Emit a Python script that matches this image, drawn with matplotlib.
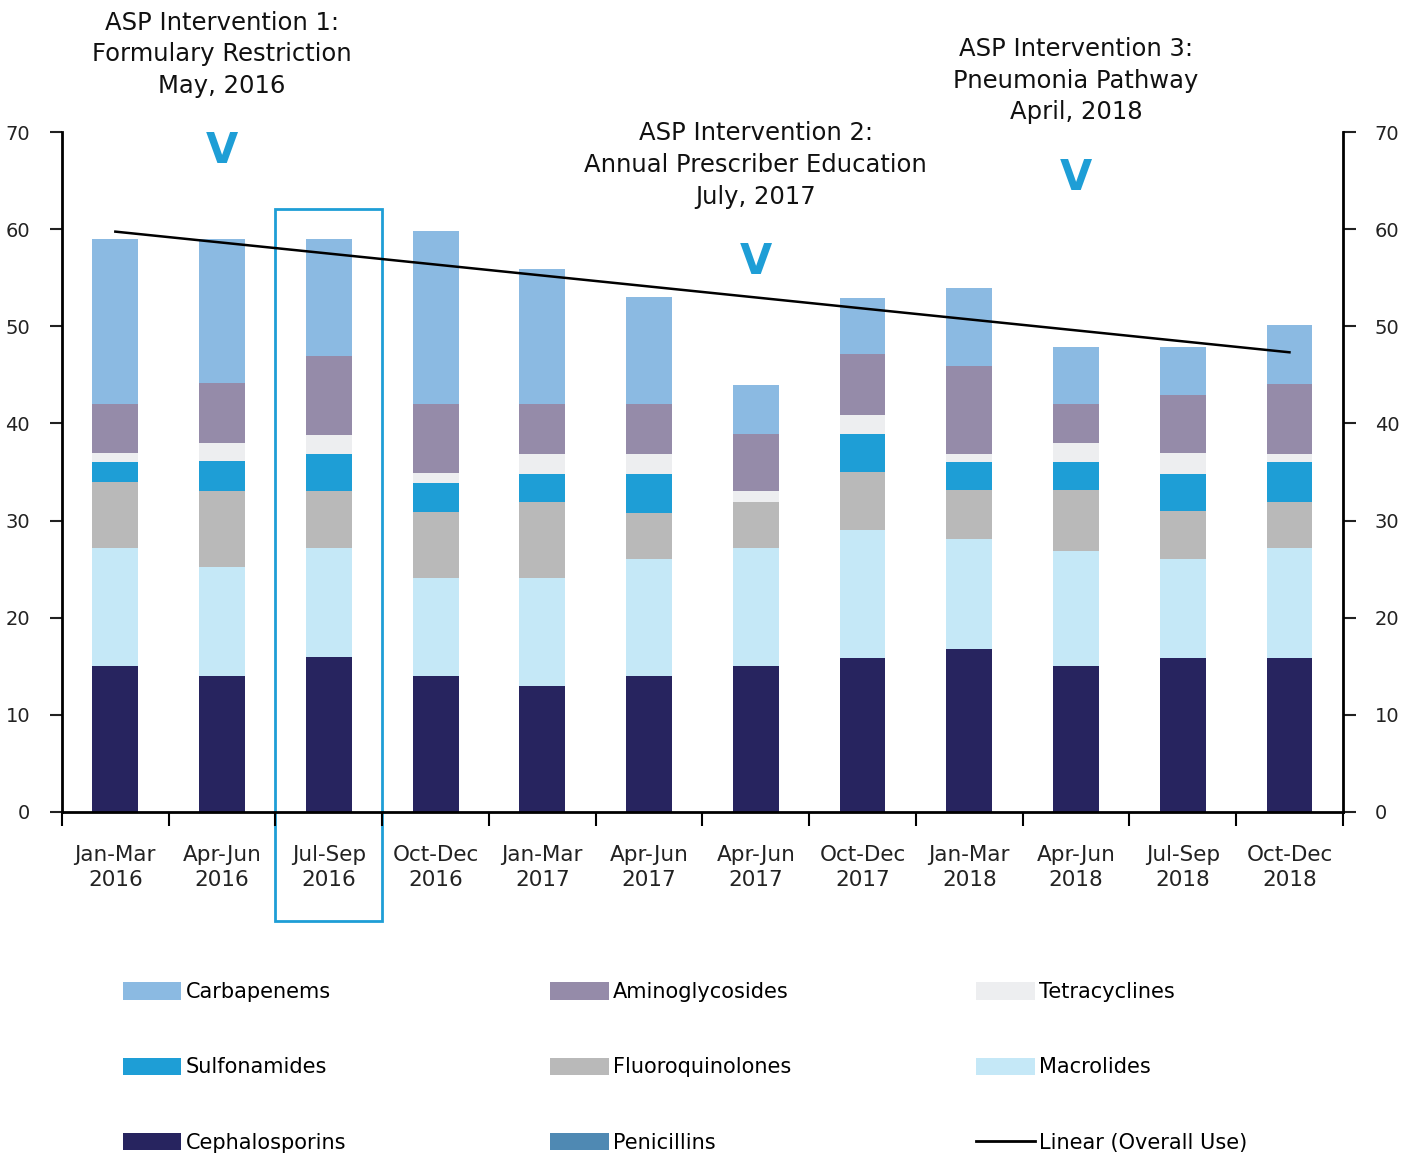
import matplotlib
matplotlib.use("Agg")
import matplotlib.pyplot as plt
import numpy as np
from matplotlib.patches import Rectangle, Patch
from matplotlib.lines import Line2D

quarters = ["Jan-Mar\n2016", "Apr-Jun\n2016", "Jul-Sep\n2016", "Oct-Dec\n2016",
            "Jan-Mar\n2017", "Apr-Jun\n2017", "Apr-Jun\n2017", "Oct-Dec\n2017",
            "Jan-Mar\n2018", "Apr-Jun\n2018", "Jul-Sep\n2018", "Oct-Dec\n2018"]

# values (per quarter), stacked bottom to top
cephalosporins = [15.0, 14.0, 16.0, 14.0, 13.0, 14.0, 15.0, 15.8, 16.8, 15.0, 15.8, 15.8]
macrolides = [12.2, 11.2, 11.2, 10.1, 11.1, 12.0, 12.2, 13.2, 11.3, 11.9, 10.2, 11.4]
fluoroquinolones = [6.8, 7.8, 5.8, 6.8, 7.8, 4.8, 4.7, 6.0, 5.0, 6.2, 5.0, 4.7]
sulfonamides = [2.0, 3.1, 3.9, 3.0, 2.9, 4.0, 0.0, 3.9, 2.9, 2.9, 3.8, 4.1]
tetracyclines = [1.0, 1.9, 1.9, 1.0, 2.1, 2.1, 1.1, 2.0, 0.9, 2.0, 2.2, 0.9]
aminoglycosides = [5.0, 6.2, 8.1, 7.1, 5.1, 5.1, 5.9, 6.2, 9.0, 4.0, 5.9, 7.2]
carbapenems = [17.0, 14.8, 12.1, 17.8, 13.9, 11.0, 5.1, 5.8, 8.0, 5.9, 5.0, 6.0]
penicillins = [0, 0, 0, 0, 0, 0, 0, 0, 0, 0, 0, 0]

series = [
    ("Cephalosporins", cephalosporins, "#27245f"),
    ("Macrolides", macrolides, "#c5e8f7"),
    ("Fluoroquinolones", fluoroquinolones, "#b9b9b9"),
    ("Sulfonamides", sulfonamides, "#1e9ed6"),
    ("Tetracyclines", tetracyclines, "#edeef0"),
    ("Aminoglycosides", aminoglycosides, "#958ba9"),
    ("Carbapenems", carbapenems, "#8bbae2"),
    ("Penicillins", penicillins, "#4f89b3"),
]

interventions = [
    ("ASP Intervention 1:\nFormulary Restriction\nMay, 2016", 1, 78.0, 68.0),
    ("ASP Intervention 2:\nAnnual Prescriber Education\nJuly, 2017", 6, 66.6, 56.6),
    ("ASP Intervention 3:\nPneumonia Pathway\nApril, 2018", 9, 75.3, 65.3),
]
highlight = 2

plt.rcParams["font.family"] = ["DejaVu Sans"]
fig = plt.figure(figsize=(14.15, 11.54), dpi=100)
ax = fig.add_axes([0.0438, 0.2964, 0.9052, 0.5892])

x = np.arange(len(quarters))
bottom = np.zeros(len(quarters))
colors = {}
for name, vals, col in series:
    ax.bar(x, vals, width=0.43, bottom=bottom, color=col, linewidth=0)
    bottom = bottom + np.array(vals)
    colors[name] = col

# linear trend of overall use
k, b = np.polyfit(x, bottom, 1)
ax.plot(x, k * x + b, color="black", lw=1.8)

ax.set_xlim(-0.5, len(quarters) - 0.5)
ax.set_ylim(0, 70)
ax.set_yticks(range(0, 71, 10))
ax.tick_params(axis="y", labelsize=14, length=9, width=1.5, colors="#222222", pad=14,
               left=True, right=True, labelleft=True, labelright=True)
ax.set_xticks(np.arange(-0.5, len(quarters), 1))
ax.set_xticklabels([])
ax.set_xticks(x, minor=True)
ax.set_xticklabels(quarters, minor=True, fontsize=15.5, color="#222222", linespacing=1.3)
ax.tick_params(axis="x", which="major", length=10, width=1.5)
ax.tick_params(axis="x", which="minor", length=0, pad=24)
ax.spines["top"].set_visible(False)
for s in ["left", "right", "bottom"]:
    ax.spines[s].set_linewidth(2)

for label, i, ty, vy in interventions:
    ax.text(i, ty, label, ha="center", va="center", fontsize=17.5, color="#111111",
            linespacing=1.4, clip_on=False)
    ax.text(i, vy, "V", ha="center", va="center", fontsize=30, fontweight="bold",
            color="#1e9ed6", clip_on=False)

ax.add_patch(Rectangle((highlight - 0.5, -11.2), 1.0, 73.3, fill=False,
                       edgecolor="#1e9ed6", lw=2, clip_on=False))

# legend, three columns as in the original layout
cols = [
    ["Carbapenems", "Sulfonamides", "Cephalosporins"],
    ["Aminoglycosides", "Fluoroquinolones", "Penicillins"],
    ["Tetracyclines", "Macrolides", "Linear (Overall Use)"],
]
xpos = [0.087, 0.389, 0.690]
for cx, names in zip(xpos, cols):
    handles = []
    for n in names:
        if n.startswith("Linear"):
            handles.append(Line2D([], [], color="black", lw=2))
        else:
            handles.append(Patch(facecolor=colors[n], edgecolor="none"))
    fig.legend(handles, names, loc="upper left", bbox_to_anchor=(cx, 0.149),
               frameon=False, fontsize=15, handlelength=2.8, handleheight=0.9,
               handletextpad=0.2, labelspacing=2.66, borderaxespad=0, borderpad=0)

fig.savefig("out.png", dpi=100)
